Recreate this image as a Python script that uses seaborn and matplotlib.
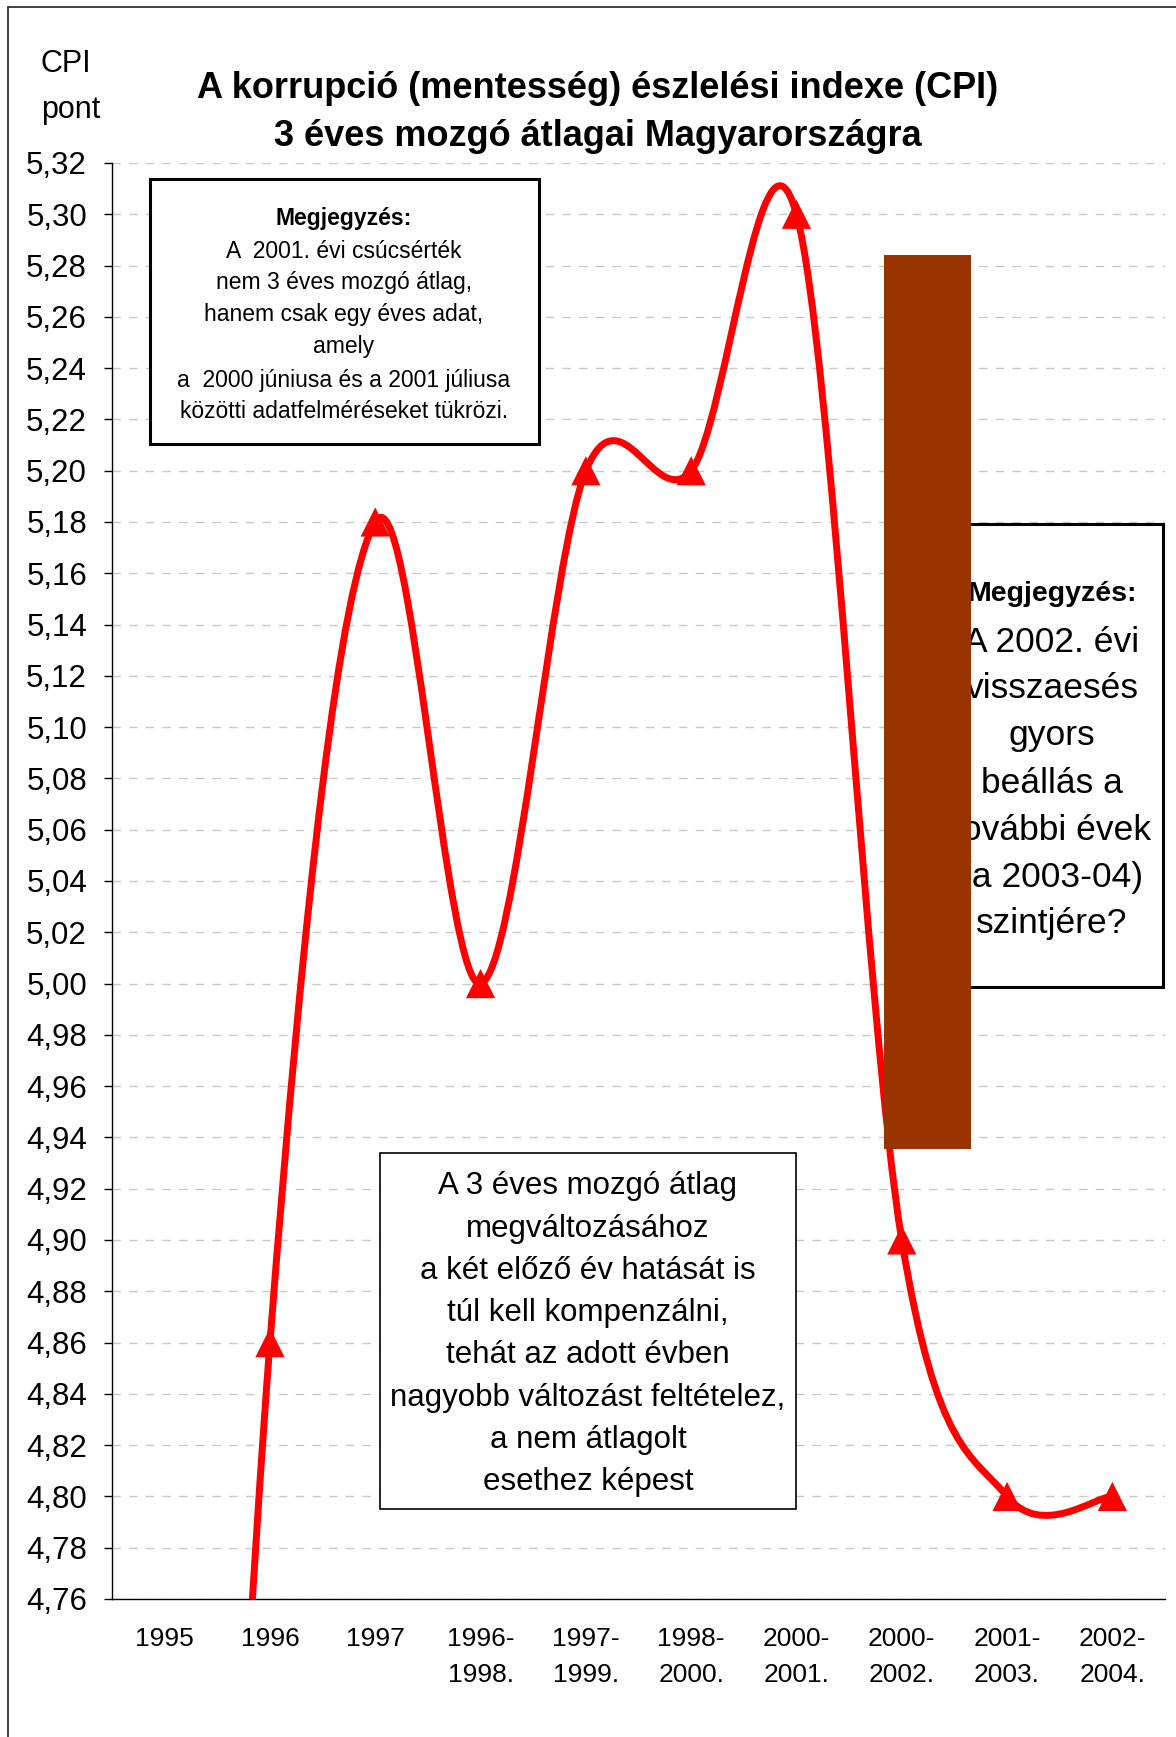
import numpy as np
import matplotlib
matplotlib.use("Agg")
import matplotlib.pyplot as plt
import seaborn as sns
from matplotlib.path import Path
from matplotlib.patches import PathPatch, Rectangle
from matplotlib.lines import Line2D
from matplotlib.ticker import MultipleLocator, FuncFormatter

# data
periods = ["1995", "1996", "1997", "1996-\n1998.", "1997-\n1999.", "1998-\n2000.",
           "2000-\n2001.", "2000-\n2002.", "2001-\n2003.", "2002-\n2004."]
cpi = [4.12, 4.86, 5.18, 5.00, 5.20, 5.20, 5.30, 4.90, 4.80, 4.80]

title_lines = ["A korrupció (mentesség) észlelési indexe (CPI)",
               "3 éves mozgó átlagai Magyarországra"]
note_peak = ["Megjegyzés:", "A  2001. évi csúcsérték", "nem 3 éves mozgó átlag,",
             "hanem csak egy éves adat,", "amely", "a  2000 júniusa és a 2001 júliusa",
             "közötti adatfelméréseket tükrözi."]
note_drop = ["Megjegyzés:", "A 2002. évi", "visszaesés", "gyors", "beállás a",
             "további évek", "(a 2003-04)", "szintjére?"]
note_avg = ["A 3 éves mozgó átlag", "megváltozásához", "a két előző év hatását is",
            "túl kell kompenzálni,", "tehát az adott évben",
            "nagyobb változást feltételez,", "a nem átlagolt", "esethez képest"]

W, H = 1176, 1737


def fx(px):
    return px / W


def fy(py):
    return 1 - py / H


sns.set_style("white")
plt.rcParams['font.family'] = ['Liberation Sans', 'DejaVu Sans']
plt.rcParams['text.color'] = 'black'
plt.rcParams['xtick.color'] = 'black'
plt.rcParams['ytick.color'] = 'black'
plt.rcParams['xtick.labelcolor'] = 'black'
plt.rcParams['ytick.labelcolor'] = 'black'

fig = plt.figure(figsize=(W / 100, H / 100), dpi=100)
ax = fig.add_axes([fx(112), fy(1599), (1165 - 112) / W, (1599 - 163) / H])

xpos = np.arange(len(periods))

# smoothed line, Excel style bezier through the points
pts = np.column_stack([xpos, cpi]).astype(float)
n = len(pts)
verts = [pts[0]]
codes = [Path.MOVETO]
for i in range(n - 1):
    prev = pts[max(i - 1, 0)]
    nxt = pts[min(i + 2, n - 1)]
    verts += [pts[i] + (pts[i + 1] - prev) / 6, pts[i + 1] - (nxt - pts[i]) / 6, pts[i + 1]]
    codes += [Path.CURVE4] * 3
ax.add_patch(PathPatch(Path(verts, codes), fill=False, edgecolor="#ff0000", lw=5,
                       capstyle="round", joinstyle="round", zorder=3))

sns.scatterplot(x=xpos, y=cpi, marker="^", s=21 ** 2, color="#ff0000",
                edgecolor="none", linewidth=0, zorder=4, ax=ax, legend=False)

ax.set_xlim(-0.5, 9.5)
ax.set_ylim(4.76, 5.32)
ax.yaxis.set_major_locator(MultipleLocator(0.02))
ax.yaxis.set_major_formatter(FuncFormatter(lambda v, p: f"{v:.2f}".replace(".", ",")))
ax.grid(axis="y", color="#c8c8c8", lw=1, linestyle=(0, (6, 6)))
ax.set_axisbelow(True)

ax.set_xticks(xpos)
ax.set_xticklabels(periods, fontsize=19, linespacing=1.65)
ax.set_xticks(np.arange(-0.5, 10, 1), minor=True)
ax.tick_params(axis="x", which="major", length=0, pad=20)
ax.tick_params(axis="x", which="minor", length=6, width=1, color="black", direction="out")
ax.tick_params(axis="y", labelsize=22.5, length=6, width=1, color="black",
               direction="out", left=True, pad=12)
for side in ["top", "right"]:
    ax.spines[side].set_visible(False)
for side in ["left", "bottom"]:
    ax.spines[side].set_color("black")
    ax.spines[side].set_linewidth(1)
ax.set_xlabel("")
ax.set_ylabel("")

# title and axis name
fig.text(fx(598), fy(89), title_lines[0], fontsize=26, fontweight="bold", ha="center", va="center")
fig.text(fx(598), fy(137), title_lines[1], fontsize=26, fontweight="bold", ha="center", va="center")
fig.text(fx(41), fy(64), "CPI", fontsize=22, ha="left", va="center")
fig.text(fx(41), fy(110), "pont", fontsize=22, ha="left", va="center")

# outer frame (only top and left edges visible)
fig.add_artist(Line2D([fx(8), fx(8)], [0, fy(7)], color="#333333", lw=1.3))
fig.add_artist(Line2D([fx(8), 1], [fy(7), fy(7)], color="#333333", lw=1.3))


def box(x0, y0, x1, y1, lw, z):
    fig.add_artist(Rectangle((fx(x0), fy(y1)), (x1 - x0) / W, (y1 - y0) / H,
                             transform=fig.transFigure, facecolor="white",
                             edgecolor="black", lw=lw, zorder=z))


# note about the 2001 peak
box(150, 179, 539, 444, 2.2, 2)
peak_y = [218, 251, 283, 315, 347, 380, 412]
for k, (line, yy) in enumerate(zip(note_peak, peak_y)):
    fig.text(fx(344), fy(yy), line, fontsize=16.5, ha="center", va="center",
             fontweight="bold" if k == 0 else "normal", zorder=3)

# note about the 2002 drop, partly hidden behind the brown bar
box(963, 524, 1163, 987, 2.2, 2)
drop_y = [594, 642, 688, 736, 783, 830, 877, 923]
for k, (line, yy) in enumerate(zip(note_drop, drop_y)):
    fig.text(fx(1052), fy(yy), line, fontsize=20.5 if k == 0 else 25.5, ha="center", va="center",
             fontweight="bold" if k == 0 else "normal", zorder=3)

fig.add_artist(Rectangle((fx(884), fy(1149)), (971 - 884) / W, (1149 - 255) / H,
                         transform=fig.transFigure, facecolor="#993300",
                         edgecolor="none", zorder=4))

# note about the moving average
box(380, 1153, 796, 1509, 1.2, 2)
avg_y = [1186, 1229, 1271, 1313, 1355, 1398, 1440, 1482]
for line, yy in zip(note_avg, avg_y):
    fig.text(fx(588), fy(yy), line, fontsize=22.5, ha="center", va="center", zorder=3)

fig.savefig("out.png", dpi=100)
